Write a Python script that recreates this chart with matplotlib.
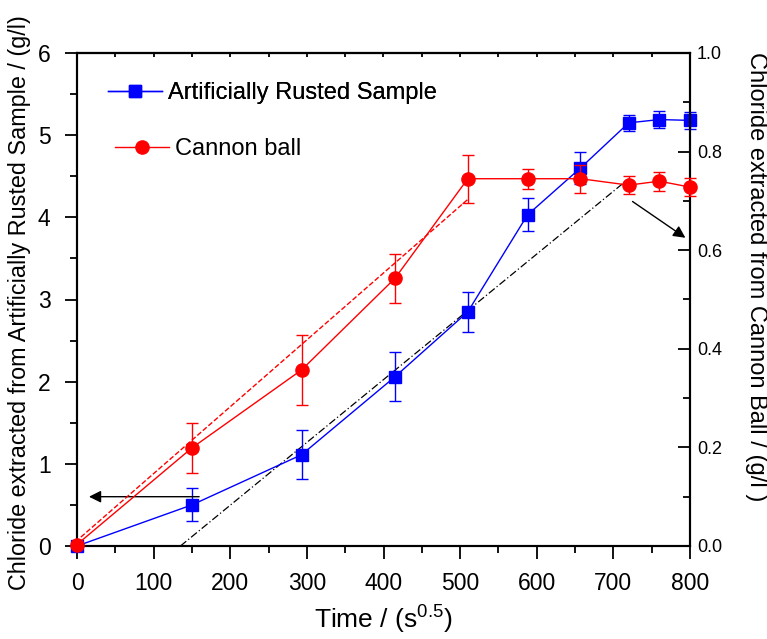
import numpy as np
import matplotlib
matplotlib.use('Agg')
import matplotlib.pyplot as plt
from matplotlib.ticker import MultipleLocator

plt.rcParams['font.family'] = ['Liberation Sans', 'DejaVu Sans']
plt.rcParams['mathtext.fontset'] = 'custom'
plt.rcParams['mathtext.rm'] = 'Liberation Sans'
plt.rcParams['mathtext.default'] = 'regular'

# Artificially rusted sample (left axis, g/l)
rust_t = [0, 150, 293, 415, 510, 588, 657, 720, 760, 800]
rust_c = [0.0, 0.50, 1.11, 2.06, 2.85, 4.03, 4.60, 5.15, 5.19, 5.18]
rust_err = [0.0, 0.20, 0.30, 0.30, 0.24, 0.20, 0.19, 0.10, 0.10, 0.10]

# Cannon ball (right axis, g/l)
ball_t = [0, 150, 293, 415, 510, 588, 657, 720, 760, 800]
ball_c = [0.003, 0.199, 0.357, 0.543, 0.745, 0.745, 0.745, 0.732, 0.740, 0.728]
ball_err = [0.0, 0.050, 0.072, 0.050, 0.049, 0.020, 0.028, 0.019, 0.019, 0.018]

# guide lines
ball_fit_t = [5, 510]
ball_fit_c = [0.018, 0.703]
rust_fit_t = [135, 720]
rust_fit_c = [0.0, 4.47]

fig = plt.figure(figsize=(7.67, 6.39), dpi=100)
ax = fig.add_axes([77 / 767, 93 / 639, 613 / 767, 493 / 639])
ax2 = ax.twinx()

blue = '#0000ff'
red = '#ff0000'

eb1 = ax.errorbar(rust_t, rust_c, yerr=rust_err, color=blue, lw=1.0, marker='s',
                  ms=8, capsize=4.3, elinewidth=1.0, capthick=1.0, clip_on=False, zorder=3)
ax.plot(rust_fit_t, rust_fit_c, color='black', ls=(0, (6, 2, 1, 2)), lw=0.9)
ax.annotate('', xy=(12, 0.6), xytext=(163, 0.6),
            arrowprops=dict(arrowstyle='-|>', color='black', lw=1.0, mutation_scale=18))

eb2 = ax2.errorbar(ball_t, ball_c, yerr=ball_err, color=red, lw=1.0, marker='o',
                   ms=9.5, capsize=4.3, elinewidth=1.0, capthick=1.0, clip_on=False, zorder=3)
ax2.plot(ball_fit_t, ball_fit_c, color=red, ls='--', lw=1.0)
ax2.annotate('', xy=(797, 0.622), xytext=(722, 0.702),
             arrowprops=dict(arrowstyle='-|>', color='black', lw=1.0, mutation_scale=18))

ax.set_xlim(0, 800)
ax.set_ylim(0, 6)
ax2.set_ylim(0, 1.0)

ax.xaxis.set_major_locator(MultipleLocator(100))
ax.xaxis.set_minor_locator(MultipleLocator(50))
ax.yaxis.set_major_locator(MultipleLocator(1))
ax.yaxis.set_minor_locator(MultipleLocator(0.5))
ax2.yaxis.set_major_locator(MultipleLocator(0.2))
ax2.yaxis.set_minor_locator(MultipleLocator(0.1))
ax2.yaxis.set_major_formatter(matplotlib.ticker.FormatStrFormatter('%.1f'))

ax.tick_params(axis='both', which='major', direction='out', length=9, width=1.3,
               labelsize=16.5, pad=10)
ax.tick_params(axis='both', which='minor', direction='out', length=5, width=1.3)
ax2.tick_params(axis='y', which='major', direction='in', length=9, width=1.3,
                labelsize=13, pad=5)
ax2.tick_params(axis='y', which='minor', direction='in', length=5, width=1.3)

top = ax.secondary_xaxis('top')
top.xaxis.set_major_locator(MultipleLocator(50))
top.tick_params(direction='in', length=3, width=1.3, labeltop=False)

for a in (ax, ax2):
    for s in a.spines.values():
        s.set_linewidth(1.5)
top.spines['top'].set_linewidth(1.5)

ax.set_xlabel('Time / (s$^{0.5}$)', fontsize=19, labelpad=6)
ax.set_ylabel('Chloride extracted from Artificially Rusted Sample / (g/l)', fontsize=16.8,
              va='center')
ax.yaxis.set_label_coords(-0.093, 0.494)
ax2.set_ylabel('Chloride extracted from Cannon Ball / (g/l )', fontsize=17, rotation=270,
               va='center')
ax2.yaxis.set_label_coords(1.108, 0.546)

leg1 = ax.legend([eb1[0]], ['Artificially Rusted Sample'], loc='center left',
                 bbox_to_anchor=(0.05, 0.919), frameon=False, fontsize=17,
                 handlelength=2.3, handletextpad=0.25, borderpad=0, borderaxespad=0)
ax.add_artist(leg1)
ax2.legend([eb2[0]], ['Cannon ball'], loc='center left',
           bbox_to_anchor=(0.062, 0.805), frameon=False, fontsize=17,
           handlelength=2.3, handletextpad=0.25, borderpad=0, borderaxespad=0)

fig.savefig('out.png', dpi=100)
